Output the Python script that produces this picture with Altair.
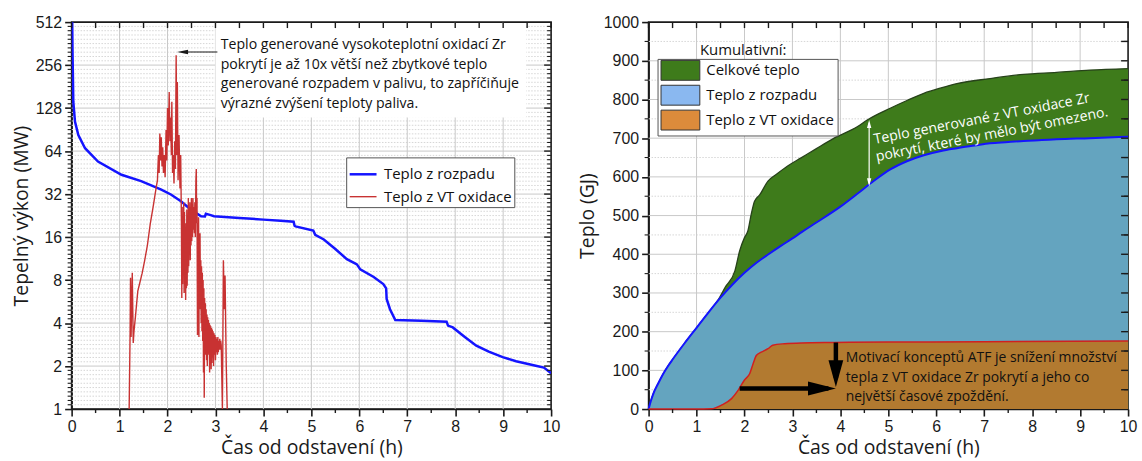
import altair as alt
import pandas as pd

# ---------------------------------------------------------------------------
# Left panel: heat output (MW) after shutdown, log2 axis
# ---------------------------------------------------------------------------
decay_t = [0.0, 0.01, 0.02, 0.035, 0.07, 0.14, 0.28, 0.55, 1.04, 1.45, 1.87, 2.07,
           2.28, 2.49, 2.70, 2.78, 2.80, 2.90, 2.97, 3.50, 4.00, 4.36, 4.63, 4.65,
           4.67, 5.04, 5.08, 5.26, 5.50, 5.74, 5.90, 5.95, 6.02, 6.30, 6.50, 6.56,
           6.57, 6.64, 6.75, 7.30, 7.82, 7.85, 7.95, 8.20, 8.44, 8.70, 8.99, 9.27,
           9.68, 9.85, 10.0]
decay_mw = [900, 600, 300, 142, 103, 83, 67, 54, 43.7, 39.4, 34.4, 31.8,
            28.5, 24.9, 22.4, 22.3, 23.3, 22.8, 22.4, 21.8, 21.2, 20.8, 20.5, 19.2,
            19.0, 17.8, 16.6, 15.4, 13.2, 11.2, 10.5, 10.3, 9.5, 8.4, 7.5, 7.0,
            5.9, 5.0, 4.2, 4.15, 4.09, 3.84, 3.73, 3.2, 2.78, 2.52, 2.31, 2.16,
            2.01, 1.95, 1.78]

oxid_t = [1.200, 1.220, 1.228, 1.240, 1.265, 1.285, 1.300, 1.330, 1.350, 1.380,
          1.420, 1.470, 1.520, 1.580, 1.640, 1.700, 1.760, 1.790, 1.810, 1.825,
          1.840, 1.855, 1.870, 1.885, 1.900, 1.915, 1.930, 1.950, 1.970, 1.985,
          2.000, 2.015, 2.035, 2.050, 2.065, 2.080, 2.090, 2.105, 2.120, 2.135,
          2.150, 2.165, 2.180, 2.195, 2.205, 2.220, 2.240, 2.260, 2.275, 2.290,
          2.298, 2.306, 2.314, 2.322, 2.330, 2.338, 2.346, 2.354, 2.362, 2.370,
          2.378, 2.386, 2.394, 2.402, 2.410, 2.418, 2.426, 2.434, 2.442, 2.450,
          2.458, 2.466, 2.474, 2.482, 2.490, 2.498, 2.506, 2.514, 2.522, 2.530,
          2.540, 2.550, 2.560, 2.570, 2.580, 2.592, 2.600, 2.608, 2.615, 2.625,
          2.632, 2.640, 2.648, 2.655, 2.662, 2.670, 2.678, 2.686, 2.694, 2.702,
          2.710, 2.718, 2.726, 2.734, 2.742, 2.750, 2.758, 2.766, 2.774, 2.782,
          2.790, 2.798, 2.806, 2.814, 2.822, 2.830, 2.838, 2.846, 2.854, 2.862,
          2.870, 2.878, 2.886, 2.894, 2.902, 2.910, 2.918, 2.926, 2.934, 2.942,
          2.950, 2.960, 2.970, 2.980, 2.990, 3.000, 3.010, 3.020, 3.030, 3.040,
          3.050, 3.060, 3.070, 3.080, 3.090, 3.100, 3.110, 3.120, 3.145, 3.165,
          3.185, 3.200, 3.225, 3.245]
oxid_mw = [1.0, 3.5, 8.3, 3.2, 9.0, 2.9, 3.5, 4.4, 5.2, 6.7,
           7.6, 8.9, 10.8, 14.0, 19.8, 26.0, 35.0, 40, 60, 45,
           85, 55, 80, 50, 68, 45, 60, 42, 90, 55,
           128, 70, 166, 75, 110, 60, 142, 45, 60, 38,
           75, 48, 300, 60, 195, 40, 83, 35, 60, 20,
           6.0, 26, 7.5, 22, 9, 28, 6.5, 24, 8, 20,
           5.8, 18, 7, 25, 7.3, 22, 9, 30, 10, 24,
           12, 28, 11, 26, 14, 30, 15, 27, 16, 30,
           18, 26, 17, 28, 16, 40, 48, 20, 30, 3.3,
           20, 6, 22, 3.2, 14, 6, 17, 5, 11, 4,
           10, 3.5, 9, 3, 8, 1.8, 7, 1.2, 6, 2.5,
           5.5, 2.4, 5, 2.2, 4.6, 2.0, 4.4, 2.6, 4.2, 2.4,
           4.0, 1.8, 3.9, 2.2, 3.8, 1.9, 3.7, 2.1, 3.6, 2.3,
           3.5, 2.0, 3.4, 2.4, 3.3, 2.2, 3.2, 2.5, 3.1, 2.4,
           3.2, 2.5, 3.0, 2.6, 3.1, 2.6, 3.0, 2.8, 1.0, 11,
           5, 8.6, 2.0, 1.0]

power_names = ["Teplo z rozpadu", "Teplo z VT oxidace"]
power_colors = ["#1414ff", "#c83232"]
power_widths = [2.5, 1.4]

# ---------------------------------------------------------------------------
# Right panel: cumulative heat (GJ)
# ---------------------------------------------------------------------------
cum_decay_t = [0, 0.05, 0.1, 0.2, 0.3, 0.41, 0.5, 0.75, 1.0, 1.25, 1.5, 1.75, 2.0,
               2.25, 2.5, 2.75, 3.0, 3.2, 3.5, 4.0, 4.36, 4.7, 5.05, 5.4, 5.74,
               6.1, 6.43, 6.8, 7.12, 7.5, 7.82, 8.2, 8.51, 9.2, 10.0]
cum_decay_gj = [0, 22, 40, 66, 90, 112, 128, 170, 210, 250, 288, 322, 352,
                378, 400, 421, 441, 458, 482, 523, 557, 590, 620, 641, 656,
                667, 674, 681, 687, 690, 693, 695, 697, 700, 704]

cum_oxid_t = [0, 1.0, 1.31, 1.52, 1.73, 1.87, 2.0, 2.11, 2.18, 2.25, 2.35, 2.49,
              2.59, 2.84, 3.18, 3.87, 5.0, 7.0, 10.0]
cum_oxid_gj = [0, 0, 0.5, 10, 27, 49, 75, 92, 117, 139, 147, 156,
               165, 169, 171, 172, 173, 174, 176]

cum_total_t = [0, 0.05, 0.1, 0.2, 0.3, 0.41, 0.5, 0.75, 1.0, 1.25, 1.45, 1.6, 1.8,
               1.9, 2.0, 2.07, 2.14, 2.21, 2.32, 2.49, 2.66, 2.9, 3.18, 3.5, 3.87,
               4.36, 4.56, 5.05, 5.4, 5.74, 6.1, 6.43, 7.12, 7.82, 8.51, 9.2, 10.0]
cum_total_gj = [0, 22, 40, 66, 90, 112, 128, 170, 210, 250, 282, 315, 357,
                409, 443, 460, 503, 537, 554, 589, 606, 628, 649, 673, 700,
                730, 747, 778, 798, 816, 830, 841, 854, 865, 870, 876, 880]

heat_names = ["Celkové teplo", "Teplo z rozpadu", "Teplo z VT oxidace"]
heat_swatch = ["#3e7b1b", "#8ab8f0", "#dc8b3b"]
fill_total, fill_decay, fill_oxid = "#3e7b1b", "#64a4bf", "#b27a30"

# ---------------------------------------------------------------------------
W, H = 482, 389
FONT = "Open Sans"
NUMFONT = "Liberation Sans"
INK = "#1a1a1a"
GRID = "#c9c9c9"
MINOR = "#d6d6d6"
HALF = [i / 2 for i in range(21)]
HOURS = list(range(11))

ARROW_R = "M-1,-0.5L1,0L-1,0.5Z"
ARROW_L = "M1,-0.4L-1,0L1,0.4Z"
ARROW_D = "M-0.55,-1L0,1L0.55,-1Z"
ARROW_U = "M-0.55,1L0,-1L0.55,1Z"
# legend swatch: 39 x 20 px, drawn rightwards from the left edge of a 16 px symbol slot
SWATCH = "M-1,-1.25L3.875,-1.25L3.875,1.25L-1,1.25Z"

xscale = alt.Scale(domain=[0, 10], nice=False, zero=False)
xaxis = alt.Axis(values=HOURS, title="Čas od odstavení (h)", format="d")
X = alt.X("t:Q", scale=xscale, axis=xaxis)


def frame_ticks(y_field_enc, major_y, minor_y):
    """Inner ticks on top/right edges and minor outer ticks on bottom/left."""
    top = alt.Chart(pd.DataFrame({"t": HALF})).mark_rule(color=INK, strokeWidth=1.4).encode(
        x=X, y=alt.value(0), y2=alt.value(6))
    bottom = alt.Chart(pd.DataFrame({"t": [h + 0.5 for h in range(10)]})).mark_rule(
        color=INK, strokeWidth=1.4).encode(x=X, y=alt.value(H), y2=alt.value(H + 4))
    right_major = alt.Chart(pd.DataFrame({"v": major_y})).mark_rule(color=INK, strokeWidth=1.4).encode(
        y=y_field_enc, x=alt.value(W - 7), x2=alt.value(W))
    right_minor = alt.Chart(pd.DataFrame({"v": minor_y})).mark_rule(color=INK, strokeWidth=1.1).encode(
        y=y_field_enc, x=alt.value(W - 4), x2=alt.value(W))
    left_minor = alt.Chart(pd.DataFrame({"v": minor_y})).mark_rule(color=INK, strokeWidth=1.1).encode(
        y=y_field_enc, x=alt.value(-4), x2=alt.value(0))
    return [top, bottom, right_major, right_minor, left_minor]


def grid_layers(y_field_enc, major_y, minor_y):
    minor = alt.Chart(pd.DataFrame({"v": minor_y})).mark_rule(
        color=MINOR, strokeWidth=1, strokeDash=[1.5, 1.5]).encode(
        y=y_field_enc, x=alt.value(0), x2=alt.value(W))
    major_h = alt.Chart(pd.DataFrame({"v": major_y})).mark_rule(color=GRID, strokeWidth=1).encode(
        y=y_field_enc, x=alt.value(0), x2=alt.value(W))
    major_v = alt.Chart(pd.DataFrame({"t": HOURS[1:-1]})).mark_rule(color=GRID, strokeWidth=1).encode(
        x=X, y=alt.value(0), y2=alt.value(H))
    return [minor, major_h, major_v]


# ----------------------------- left panel ---------------------------------
pow2 = [2 ** k for k in range(10)]
pow2_minor = [2 ** (k + i / 10) for k in range(9) for i in range(1, 10)]
YL = alt.Y("v:Q", scale=alt.Scale(type="log", base=2, domain=[1, 512], nice=False),
           axis=alt.Axis(values=pow2, format="d", title="Tepelný výkon (MW)"))

power = pd.concat([
    pd.DataFrame({"t": decay_t, "v": decay_mw, "series": power_names[0]}),
    pd.DataFrame({"t": oxid_t, "v": oxid_mw, "series": power_names[1]}),
])

legend_left = alt.Legend(title=None, orient="none", legendX=276, legendY=136,
                         fillColor="white", strokeColor="#555", padding=2,
                         symbolType="stroke", symbolSize=729,
                         labelFont=FONT, labelFontSize=15, labelColor="#111",
                         labelOffset=6, rowPadding=0)

lines = alt.Chart(power).mark_line(clip=True).encode(
    x=X, y=YL,
    color=alt.Color("series:N", scale=alt.Scale(domain=power_names, range=power_colors),
                    legend=legend_left),
    strokeWidth=alt.StrokeWidth("series:N", scale=alt.Scale(domain=power_names, range=power_widths),
                                legend=legend_left),
)

note_left = ["Teplo generované vysokoteplotní oxidací Zr",
             "pokrytí je až 10x větší než zbytkové teplo",
             "generované rozpadem v palivu, to zapříčiňuje",
             "výrazné zvýšení teploty paliva."]
note_left_df = pd.DataFrame({"t": [3.11] * 4, "v": [351, 257, 188, 137], "text": note_left})
note_box = alt.Chart(pd.DataFrame({"t": [3.0], "t2": [9.48], "v": [110], "v2": [500]})).mark_rect(
    color="white").encode(x=X, x2="t2:Q", y=YL, y2="v2:Q")
note_text = alt.Chart(note_left_df).mark_text(
    align="left", baseline="middle", font=FONT, fontSize=14.2, color="#111").encode(
    x=X, y=YL, text="text:N")
peak_arrow = alt.Chart(pd.DataFrame({"t": [3.04], "t2": [2.30], "v": [316]})).mark_rule(
    color=INK, strokeWidth=1.2).encode(x=X, x2="t2:Q", y=YL)
peak_head = alt.Chart(pd.DataFrame({"t": [2.2], "v": [316]})).mark_point(
    shape=ARROW_L, filled=True, size=121, color=INK, opacity=1, strokeWidth=0, xOffset=5.5).encode(
    x=X, y=YL)

left = alt.layer(
    *grid_layers(YL, pow2[1:-1], pow2_minor),
    note_box, note_text, peak_arrow, peak_head,
    lines,
    *frame_ticks(YL, pow2[1:-1], pow2_minor),
).properties(width=W, height=H)

# ----------------------------- right panel --------------------------------
gj_major = list(range(100, 1000, 100))
gj_minor = list(range(50, 1000, 100))
YR = alt.Y("v:Q", scale=alt.Scale(domain=[0, 1000], nice=False),
           axis=alt.Axis(values=list(range(0, 1001, 100)), format="d", title="Teplo (GJ)",
                         titlePadding=6))

total_df = pd.DataFrame({"t": cum_total_t, "v": cum_total_gj})
decay_df = pd.DataFrame({"t": cum_decay_t, "v": cum_decay_gj})
oxid_df = pd.DataFrame({"t": cum_oxid_t, "v": cum_oxid_gj})

area_total = alt.Chart(total_df).mark_area(color=fill_total, opacity=1, interpolate="monotone").encode(x=X, y=YR)
line_total = alt.Chart(total_df).mark_line(color="#27421a", strokeWidth=1.3, interpolate="monotone").encode(x=X, y=YR)
area_decay = alt.Chart(decay_df).mark_area(color=fill_decay, opacity=1, interpolate="monotone").encode(x=X, y=YR)
line_decay = alt.Chart(decay_df).mark_line(color="#1414ff", strokeWidth=2, interpolate="monotone").encode(x=X, y=YR)
area_oxid = alt.Chart(oxid_df).mark_area(color=fill_oxid, opacity=1, interpolate="monotone").encode(x=X, y=YR)
line_oxid = alt.Chart(oxid_df).mark_line(color="#d02020", strokeWidth=1.5, interpolate="monotone").encode(x=X, y=YR)

# legend swatches (points sit outside the domain and are clipped away)
legend_right = alt.Legend(title=None, orient="none", legendX=9, legendY=37,
                          fillColor="white", strokeColor="#555", padding=3,
                          symbolType=SWATCH, symbolSize=256,
                          symbolStrokeColor="#333", symbolStrokeWidth=1,
                          labelFont=FONT, labelFontSize=15, labelColor="#111",
                          labelOffset=29, rowPadding=0)
swatches = alt.Chart(pd.DataFrame({"t": [-5.0] * 3, "v": [-500.0] * 3, "series": heat_names})).mark_point(
    shape=SWATCH, filled=True, clip=True, size=100, opacity=1).encode(
    x=X, y=YR,
    color=alt.Color("series:N", scale=alt.Scale(domain=heat_names, range=heat_swatch),
                    legend=legend_right))
legend_title = alt.Chart(pd.DataFrame({"t": [1.07], "v": [927], "text": ["Kumulativní:"]})).mark_text(
    align="left", baseline="middle", font=FONT, fontSize=15, color="#111").encode(
    x=X, y=YR, text="text:N")

# white double arrow and rotated note in the green band
band_rule = alt.Chart(pd.DataFrame({"t": [4.6], "v": [740], "v2": [583]})).mark_rule(
    color="white", strokeWidth=1.2).encode(x=X, y=YR, y2="v2:Q")
band_top = alt.Chart(pd.DataFrame({"t": [4.6], "v": [747]})).mark_point(
    shape=ARROW_U, filled=True, size=64, color="white", opacity=1, strokeWidth=0, yOffset=4).encode(x=X, y=YR)
band_bot = alt.Chart(pd.DataFrame({"t": [4.6], "v": [576]})).mark_point(
    shape=ARROW_D, filled=True, size=64, color="white", opacity=1, strokeWidth=0, yOffset=-4).encode(x=X, y=YR)
band_text = alt.Chart(pd.DataFrame({
    "t": [6.95, 7.16], "v": [749, 709],
    "text": ["Teplo generované z VT oxidace Zr", "pokrytí, které by mělo být omezeno."]})).mark_text(
    align="center", baseline="middle", angle=349, font=FONT, fontSize=14.2, color="white").encode(
    x=X, y=YR, text="text:N")

# black arrows and note in the oxidation area
h_arrow = alt.Chart(pd.DataFrame({"t": [1.9], "t2": [3.75], "v": [53]})).mark_rule(
    color="black", strokeWidth=4.5).encode(x=X, x2="t2:Q", y=YR)
h_head = alt.Chart(pd.DataFrame({"t": [3.906], "v": [53]})).mark_point(
    shape=ARROW_R, filled=True, size=784, color="black", opacity=1, strokeWidth=0, xOffset=-14).encode(x=X, y=YR)
v_arrow = alt.Chart(pd.DataFrame({"t": [3.906], "v": [172], "v2": [80]})).mark_rule(
    color="black", strokeWidth=4.5).encode(x=X, y=YR, y2="v2:Q")
v_head = alt.Chart(pd.DataFrame({"t": [3.906], "v": [57]})).mark_point(
    shape=ARROW_D, filled=True, size=729, color="black", opacity=1, strokeWidth=0, yOffset=-13.5).encode(x=X, y=YR)
atf_text = alt.Chart(pd.DataFrame({
    "t": [4.11] * 3, "v": [131, 80.5, 31.6],
    "text": ["Motivací konceptů ATF je snížení množství",
             "tepla z VT oxidace Zr pokrytí a jeho co",
             "největší časové zpoždění."]})).mark_text(
    align="left", baseline="middle", font=FONT, fontSize=14.0, color="#111").encode(
    x=X, y=YR, text="text:N")

right = alt.layer(
    *grid_layers(YR, gj_major, gj_minor),
    area_total, line_total, area_decay, line_decay, area_oxid, line_oxid,
    band_rule, band_top, band_bot, band_text,
    h_arrow, h_head, v_arrow, v_head, atf_text,
    legend_title, swatches,
    *frame_ticks(YR, [50 * k for k in range(1, 20)], gj_minor),
).properties(width=W, height=H)

chart = alt.hconcat(left, right, spacing=98, bounds="flush").properties(
    padding={"left": 10, "top": 12, "right": 4, "bottom": 0}
).resolve_scale(color="independent", strokeWidth="independent").configure_view(
    stroke=INK, strokeWidth=1.6
).configure_axis(
    domainColor=INK, domainWidth=1.6, tickColor=INK, tickWidth=1.6, tickSize=7,
    labelFont=NUMFONT, labelFontSize=16, labelColor=INK, labelPadding=3, labelFlush=False,
    titleFont=FONT, titleFontSize=19.5, titleFontWeight="normal", titleColor=INK,
    titlePadding=4, grid=False, zindex=1
)

chart.save("out.html", embed_options={"renderer": "svg", "actions": False})
